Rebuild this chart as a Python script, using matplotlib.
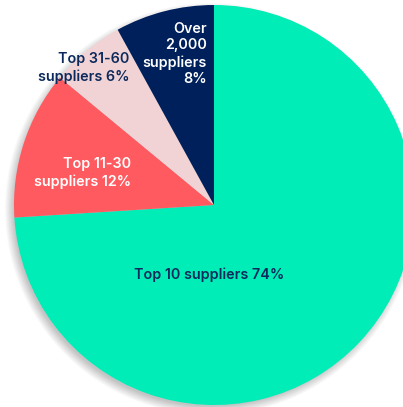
import matplotlib
matplotlib.use("Agg")
import matplotlib.pyplot as plt
from matplotlib.patches import Circle

labels = ["Top 10 suppliers 74%", "Top 11-30\nsuppliers 12%", "Top 31-60\nsuppliers 6%", "Over\n2,000\nsuppliers\n8%"]
values = [74, 12, 6, 8]
colors = ["#00EDB8", "#FF5A5F", "#F2D3D5", "#00205B"]
text_colors = ["#0B2A5B", "white", "#0B2A5B", "white"]

W, H = 403, 407
fig = plt.figure(figsize=(W / 100, H / 100), dpi=100)
ax = fig.add_axes([0, 0, 1, 1])
cx, cy, r = 214, H - 205, 200

# soft shadow
for k in range(12):
    ax.add_patch(Circle((cx - 3, cy - 4), r + 6 - k * 0.8, color="black", alpha=0.018, lw=0, zorder=0))

ax.pie(values, colors=colors, startangle=90, counterclock=False, center=(cx, cy), radius=r,
       wedgeprops=dict(linewidth=0), frame=True)
ax.set_xlim(0, W)
ax.set_ylim(0, H)
ax.axis("off")

pos = [(209, H - 275, "center"), (131, H - 173, "right"), (129, H - 68, "right"), (207, H - 54, "right")]
for lab, tc, (x, y, ha) in zip(labels, text_colors, pos):
    ax.text(x, y, lab, ha=ha, va="center", color=tc, fontsize=10.3, fontweight="semibold",
            family="Inter", linespacing=1.22, multialignment="right" if ha == "right" else "center")

fig.savefig("out.png", dpi=100)
